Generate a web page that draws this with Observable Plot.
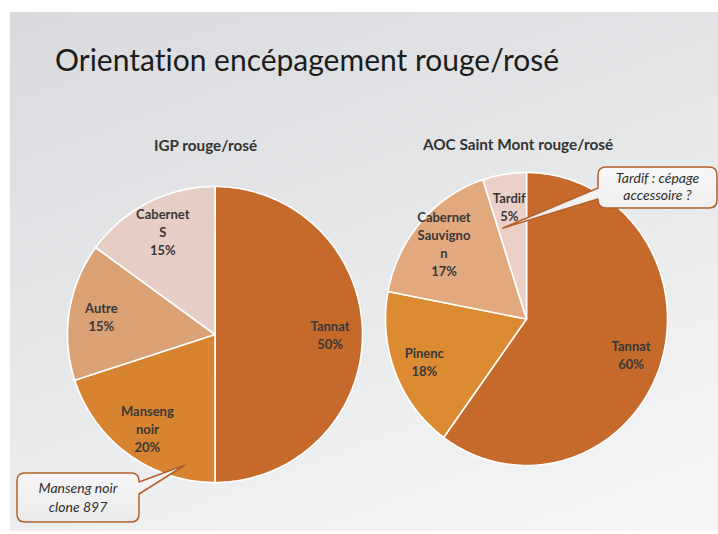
<!DOCTYPE html>
<html><head><meta charset="utf-8">
<script src="https://cdn.jsdelivr.net/npm/d3@7"></script>
<script src="https://cdn.jsdelivr.net/npm/@observablehq/plot@0.6"></script>
<style>
html,body{margin:0;padding:0;background:#fff;}
#page{position:relative;width:718px;height:534px;overflow:hidden;background:#fff;font-family:Lato,"Open Sans",sans-serif;}
#slide{position:absolute;left:10px;top:12px;width:708px;height:519px;background:linear-gradient(160deg,#d8dadd 0%,#e3e5e7 40%,#eff0f1 75%,#f5f6f6 100%);}
.pie{position:absolute;}
#overlay{position:absolute;left:0;top:0;font-variant-ligatures:none;}
svg text{font-variant-ligatures:none;}
</style></head><body>
<div id="page"><div id="slide"></div><div id="left" class="pie"></div><div id="right" class="pie"></div>
<svg id="overlay" width="718" height="534"></svg>
</div>
<script>
const pageTitle = "Orientation encépagement rouge/rosé";
const chartTitles = ["IGP rouge/rosé", "AOC Saint Mont rouge/rosé"];

const igpNames = ["Tannat", "Manseng\nnoir", "Autre", "Cabernet\nS"];
const igpValues = [50, 20, 15, 15];
const igpColors = ["#c66a2c", "#d8832f", "#d9a174", "#e6cec5"];

const aocNames = ["Tannat", "Pinenc", "Cabernet\nSauvigno\nn", "Tardif"];
const aocValues = [60, 18, 17, 5];
const aocColors = ["#c66a2c", "#dd8b33", "#e3a97e", "#ebd0c8"];

const callout1 = ["Manseng noir", "clone 897"];
const callout2 = ["Tardif : cépage", "accessoire ?"];

function pieChart(names, values, colors, g) {
  const m = 4;
  const arcs = d3.pie().sort(null).value(d => d)(values);
  const pts = [];
  arcs.forEach((a, i) => {
    const n = Math.max(2, Math.ceil((a.endAngle - a.startAngle) / (Math.PI / 180)));
    pts.push({k: names[i], x: 0, y: 0});
    for (let j = 0; j <= n; j++) {
      const t = a.startAngle + (a.endAngle - a.startAngle) * j / n;
      pts.push({k: names[i], x: Math.sin(t), y: Math.cos(t)});
    }
    pts.push({k: names[i], x: 0, y: 0});
  });
  const labels = arcs.map((a, i) => {
    const t = (a.startAngle + a.endAngle) / 2;
    return {x: g.lr * Math.sin(t), y: g.lr * Math.cos(t), text: names[i] + "\n" + values[i] + "%"};
  });
  return Plot.plot({
    width: 2 * g.rx + 2 * m, height: 2 * g.ry + 2 * m, margin: m,
    style: {background: "transparent", overflow: "visible"},
    x: {domain: [-1, 1], axis: null},
    y: {domain: [-1, 1], axis: null},
    color: {type: "ordinal", domain: names, range: colors},
    marks: [
      Plot.line(pts, {x: "x", y: "y", z: "k", fill: "k", stroke: "white", strokeWidth: 1.6, strokeLinejoin: "round"}),
      Plot.text(labels, {x: "x", y: "y", text: "text", fontWeight: "bold", fontSize: 13, fill: "#383838", lineHeight: 1.38, fontFamily: "Lato, 'Open Sans', sans-serif"})
    ]
  });
}

const geoL = {cx: 214.5, cy: 334, rx: 147.5, ry: 148, lr: 0.78};
const geoR = {cx: 526, cy: 318.5, rx: 141, ry: 146.5, lr: 0.78};
function place(id, el, g) {
  const d = document.getElementById(id);
  d.style.left = (g.cx - g.rx - 4) + "px";
  d.style.top = (g.cy - g.ry - 4) + "px";
  d.appendChild(el);
}
place("left", pieChart(igpNames, igpValues, igpColors, geoL), geoL);
place("right", pieChart(aocNames, aocValues, aocColors, geoR), geoR);

const svg = d3.select("#overlay");
const ff = "Lato, 'Open Sans', sans-serif";
svg.append("text").attr("x", 55).attr("y", 71).attr("font-size", 30).attr("font-family", ff)
  .attr("fill", "#1c1c1c").text(pageTitle);
svg.append("text").attr("x", 205.5).attr("y", 151).attr("text-anchor", "middle").attr("font-size", 15.3).attr("font-weight", "bold")
  .attr("font-family", ff).attr("fill", "#333").text(chartTitles[0]);
svg.append("text").attr("x", 518).attr("y", 150).attr("text-anchor", "middle").attr("font-size", 15.3).attr("font-weight", "bold")
  .attr("font-family", ff).attr("fill", "#333").text(chartTitles[1]);

const grad = svg.append("defs").append("linearGradient").attr("id", "cg").attr("x1", 0).attr("y1", 0).attr("x2", 0).attr("y2", 1);
grad.append("stop").attr("offset", 0).attr("stop-color", "#f7f7f7");
grad.append("stop").attr("offset", 1).attr("stop-color", "#ebebeb");

const c1 = "M25,473 H131 Q139,473 139,481 V482 L185,465 L139,494 V514 Q139,522 131,522 H25 Q17,522 17,514 V481 Q17,473 25,473 Z";
const c2 = "M606,167 H709 Q717,167 717,175 V200 Q717,208 709,208 H606 Q598,208 598,200 V199 L503,228 L598,188 V175 Q598,167 606,167 Z";
[c1, c2].forEach(p => svg.append("path").attr("d", p).attr("fill", "url(#cg)").attr("stroke", "#b5602a").attr("stroke-width", 1.5).attr("stroke-linejoin", "round"));

function calloutText(lines, x, y0, dy) {
  lines.forEach((t, i) => svg.append("text").attr("x", x).attr("y", y0 + i * dy).attr("text-anchor", "middle")
    .attr("font-size", 14).attr("font-style", "italic").attr("font-family", ff)
    .attr("fill", "#2e2e2e").text(t));
}
calloutText(callout1, 78, 493, 19);
calloutText(callout2, 657.5, 183, 17);
</script>
</body></html>
